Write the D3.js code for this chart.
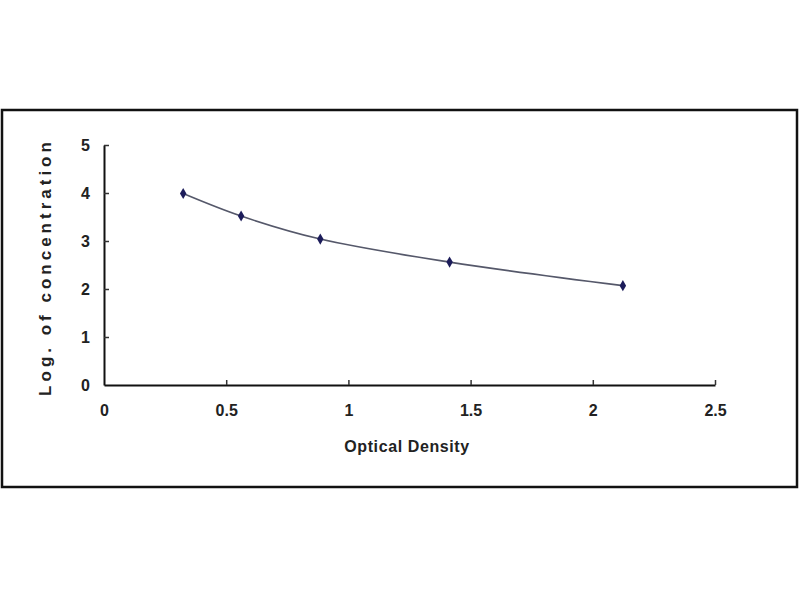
<html>
  <head>
    <meta charset="UTF-8">
    <script src="https://d3js.org/d3.v7.min.js"></script>
    <style>
      body { margin: 0; background: #fff; font-family: "Liberation Sans", Arial, sans-serif; }
      svg text { font-weight: bold; fill: #222; }
    </style>
  </head>
  <body>
    <svg width="800" height="600"></svg>
    <script>
      // standard curve points
      const opticalDensity = [0.324, 0.561, 0.885, 1.414, 2.123];
      const logConc = [3.99, 3.52, 3.04, 2.56, 2.07];
      const xTicks = [0, 0.5, 1, 1.5, 2, 2.5];
      const yTicks = [0, 1, 2, 3, 4, 5];

      const svg = d3.select("svg");

      // outer frame
      svg.append("rect")
        .attr("x", 2).attr("y", 110)
        .attr("width", 795).attr("height", 377)
        .attr("fill", "none")
        .attr("stroke", "#111")
        .attr("stroke-width", 2.5);

      const x = d3.scaleLinear().domain([0, 2.5]).range([104, 715]);
      const y = d3.scaleLinear().domain([0, 5]).range([385, 145]);

      const xAxis = svg.append("g")
        .attr("transform", `translate(0,${y(0)})`)
        .call(d3.axisBottom(x).tickValues(xTicks).tickSizeInner(-5).tickSizeOuter(0)
          .tickFormat(d3.format("")).tickPadding(20));
      const yAxis = svg.append("g")
        .attr("transform", `translate(${x(0)},0)`)
        .call(d3.axisLeft(y).tickValues(yTicks).tickSizeInner(-5).tickSizeOuter(0)
          .tickFormat(d3.format("")).tickPadding(14));

      [xAxis, yAxis].forEach((g) => {
        g.select(".domain").attr("stroke", "#111").attr("stroke-width", 2);
        g.selectAll(".tick line").attr("stroke", "#333").attr("stroke-width", 1.5);
        g.selectAll(".tick text").style("font-size", "16px").style("font-family", "Liberation Sans, Arial, sans-serif");
      });
      // no tick mark at the origin
      yAxis.selectAll(".tick").filter((d) => d === 0).select("line").remove();
      xAxis.selectAll(".tick").filter((d) => d === 0).select("line").remove();

      const pts = opticalDensity.map((d, i) => [d, logConc[i]]);

      svg.append("path")
        .datum(pts)
        .attr("fill", "none")
        .attr("stroke", "#55586a")
        .attr("stroke-width", 1.6)
        .attr("d", d3.line().x((d) => x(d[0])).y((d) => y(d[1])).curve(d3.curveCatmullRom));

      svg.append("g")
        .selectAll("path")
        .data(pts)
        .join("path")
        .attr("transform", (d) => `translate(${x(d[0])},${y(d[1])})`)
        .attr("d", d3.symbol(d3.symbolDiamond, 36))
        .attr("fill", "#1c1c5a");

      svg.append("text")
        .attr("x", 407).attr("y", 452)
        .attr("text-anchor", "middle")
        .style("font-size", "16px")
        .style("letter-spacing", "0.6px")
        .text("Optical Density");

      svg.append("text")
        .attr("transform", "translate(51,267) rotate(-90)")
        .attr("text-anchor", "middle")
        .style("font-size", "17px")
        .style("letter-spacing", "4px")
        .text("Log. of concentration");
    </script>
  </body>
</html>
